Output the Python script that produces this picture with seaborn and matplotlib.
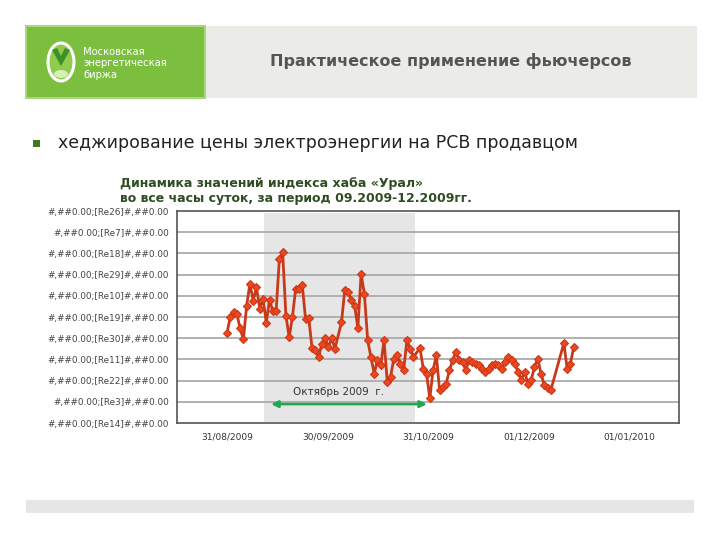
import numpy as np
import pandas as pd
import matplotlib
matplotlib.use("Agg")
import matplotlib.pyplot as plt
import matplotlib.patches as mpatches
import seaborn as sns

# ---- data (day offset from 31/08/2009, index value in axis units) ----
days = [0, 1, 2, 3, 4, 5, 6, 7, 8, 9, 10, 11, 12, 13, 14, 15, 16, 17, 18, 19,
        20, 21, 22, 23, 24, 25, 26, 27, 28, 29, 30, 31, 32, 33, 35, 36, 37, 38,
        39, 40, 41, 42, 43, 44, 45, 46, 47, 48, 49, 50, 51, 52, 53, 54, 55, 56,
        57, 59, 60, 61, 62, 63, 64, 65, 66, 67, 68, 69, 70, 71, 72, 73, 74, 75,
        76, 77, 78, 79, 80, 81, 82, 83, 84, 85, 86, 87, 88, 89, 90, 91, 92, 93,
        94, 95, 96, 97, 98, 99, 103, 104, 105, 106]
values = [4.24, 5.02, 5.23, 5.16, 4.46, 3.94, 5.54, 6.57, 5.77, 6.40, 5.40, 5.87,
          4.74, 5.82, 5.26, 5.26, 7.73, 8.08, 5.07, 4.04, 5.02, 6.34, 6.34, 6.51,
          4.92, 4.93, 3.52, 3.43, 3.10, 3.74, 3.99, 3.58, 4.00, 3.51, 4.75, 6.28,
          6.16, 5.81, 5.54, 4.49, 7.03, 6.09, 3.90, 3.11, 2.33, 2.96, 2.72, 3.90,
          1.94, 2.17, 3.04, 3.19, 2.80, 2.49, 3.90, 3.51, 3.11, 3.54, 2.57, 2.33,
          1.16, 2.49, 3.19, 1.55, 1.70, 1.86, 2.49, 2.96, 3.35, 2.96, 2.88, 2.49,
          2.96, 2.88, 2.80, 2.72, 2.57, 2.41, 2.57, 2.72, 2.80, 2.72, 2.57, 2.88,
          3.11, 2.96, 2.80, 2.41, 2.05, 2.41, 1.86, 2.02, 2.64, 3.04, 2.33, 1.78,
          1.63, 1.55, 3.77, 2.57, 2.80, 3.58]

y_labels = ["#,##0.00;[Re14]#,##0.00", "#,##0.00;[Re3]#,##0.00",
            "#,##0.00;[Re22]#,##0.00", "#,##0.00;[Re11]#,##0.00",
            "#,##0.00;[Re30]#,##0.00", "#,##0.00;[Re19]#,##0.00",
            "#,##0.00;[Re10]#,##0.00", "#,##0.00;[Re29]#,##0.00",
            "#,##0.00;[Re18]#,##0.00", "#,##0.00;[Re7]#,##0.00",
            "#,##0.00;[Re26]#,##0.00"]
x_labels = ["31/08/2009", "30/09/2009", "31/10/2009", "01/12/2009", "01/01/2010"]
x_label_pos = [0, 30.9, 61.5, 92.4, 123.0]
x_tick_pos = [-15.3, 15.3, 45.9, 76.8, 107.6, 138.2]

header_title = "Практическое применение фьючерсов"
logo_lines = ["Московская", "энергетическая", "биржа"]
bullet_text = "хеджирование цены электроэнергии на РСВ продавцом"
chart_title = "Динамика значений индекса хаба «Урал»\nво все часы суток, за период 09.2009-12.2009гг."
october_label = "Октябрь 2009  г."

df = pd.DataFrame({"day": days, "value": values})

sns.set_style("white")
plt.rcParams["font.family"] = ["DejaVu Sans"]

W, H = 720, 540
fig = plt.figure(figsize=(7.2, 5.4), dpi=100)
fig.patch.set_facecolor("white")

def fx(x):
    return x / W

def fy(y):
    return 1 - y / H

# ---- header ----
fig.patches.append(mpatches.Rectangle((fx(205), fy(98)), fx(697) - fx(205), fy(26) - fy(98),
                                      transform=fig.transFigure, facecolor="#ebebe7",
                                      edgecolor="none", zorder=0))
fig.patches.append(mpatches.Rectangle((fx(26), fy(98)), fx(205) - fx(26), fy(26) - fy(98),
                                      transform=fig.transFigure, facecolor="#7cbf3f",
                                      edgecolor="#a9d77f", linewidth=1.5, zorder=1))
# logo icon
fig.patches.append(mpatches.Ellipse((fx(61), fy(62)), 26 / W, 38 / H, transform=fig.transFigure,
                                    facecolor="#8fcb4c", edgecolor="white", linewidth=2.2, zorder=2))
fig.patches.append(mpatches.Polygon([(fx(52), fy(50)), (fx(61), fy(66)), (fx(70), fy(50)),
                                     (fx(65), fy(48)), (fx(61), fy(56)), (fx(57), fy(48))],
                                    closed=True, transform=fig.transFigure,
                                    facecolor="#3e8f2a", edgecolor="none", zorder=3))
fig.patches.append(mpatches.Ellipse((fx(61), fy(74)), 14 / W, 8 / H, transform=fig.transFigure,
                                    facecolor="#d8eeb8", edgecolor="none", zorder=3))
for i, t in enumerate(logo_lines):
    fig.text(fx(83), fy(52 + i * 11.5), t, color="white", fontsize=7.2, va="center", ha="left")
fig.text(fx(632), fy(61), header_title, color="#555555", fontsize=11.5, fontweight="bold",
         ha="right", va="center")

# ---- bullet ----
fig.patches.append(mpatches.Rectangle((fx(33), fy(147)), 7 / W, 7 / H, transform=fig.transFigure,
                                      facecolor="#3f7a22", edgecolor="none"))
fig.text(fx(58), fy(143), bullet_text, color="#222222", fontsize=12.5, ha="left", va="center")

# ---- footer ----
fig.patches.append(mpatches.Rectangle((fx(26), fy(513)), fx(694) - fx(26), fy(500) - fy(513),
                                      transform=fig.transFigure, facecolor="#e6e6e6",
                                      edgecolor="none"))

# ---- chart ----
ax = fig.add_axes([fx(177), fy(423), fx(679) - fx(177), fy(211) - fy(423)])
ax.set_xlim(x_tick_pos[0], x_tick_pos[-1])
ax.set_ylim(0, 10)

ax.axvspan(11.3, 57.5, ymin=0.005, ymax=0.99, color="#e6e6e6", zorder=0, lw=0)
for v in range(1, 10):
    ax.axhline(v, color="#ababab", lw=1.3, zorder=1)

sns.lineplot(data=df, x="day", y="value", ax=ax, color="#c8391a", lw=2.0,
             marker="D", markersize=4.5, markerfacecolor="#f0461e",
             markeredgecolor="#c8391a", markeredgewidth=0.8, zorder=3)

ax.annotate("", xy=(61.1, 0.89), xytext=(13.5, 0.89),
            arrowprops=dict(arrowstyle="<|-|>", color="#1fa84f", lw=1.8,
                            mutation_scale=10, shrinkA=0, shrinkB=0), zorder=4)
ax.text(34, 1.46, october_label, fontsize=7.5, color="#333333", ha="center", va="center")

ax.set_yticks(range(11))
ax.set_yticklabels(y_labels, fontsize=6.4, color="#444444")
ax.set_xticks(x_tick_pos)
ax.set_xticklabels([])
ax.set_xticks(x_label_pos, minor=True)
ax.set_xticklabels(x_labels, minor=True, fontsize=6.5, color="#333333")
ax.tick_params(axis="x", which="minor", length=0, pad=7)
ax.tick_params(axis="x", which="major", length=4, color="#555555", direction="out", width=1)
ax.tick_params(axis="y", length=5, color="#555555", direction="out", width=1, pad=1)
ax.set_xlabel("")
ax.set_ylabel("")
for s in ax.spines.values():
    s.set_color("#555555")
    s.set_linewidth(1.2)
ax.set_facecolor("white")

fig.text(fx(120), fy(191), chart_title, color="#2e4d22", fontsize=9, fontweight="bold",
         ha="left", va="center", linespacing=1.15)

fig.savefig("out.png", dpi=100)
